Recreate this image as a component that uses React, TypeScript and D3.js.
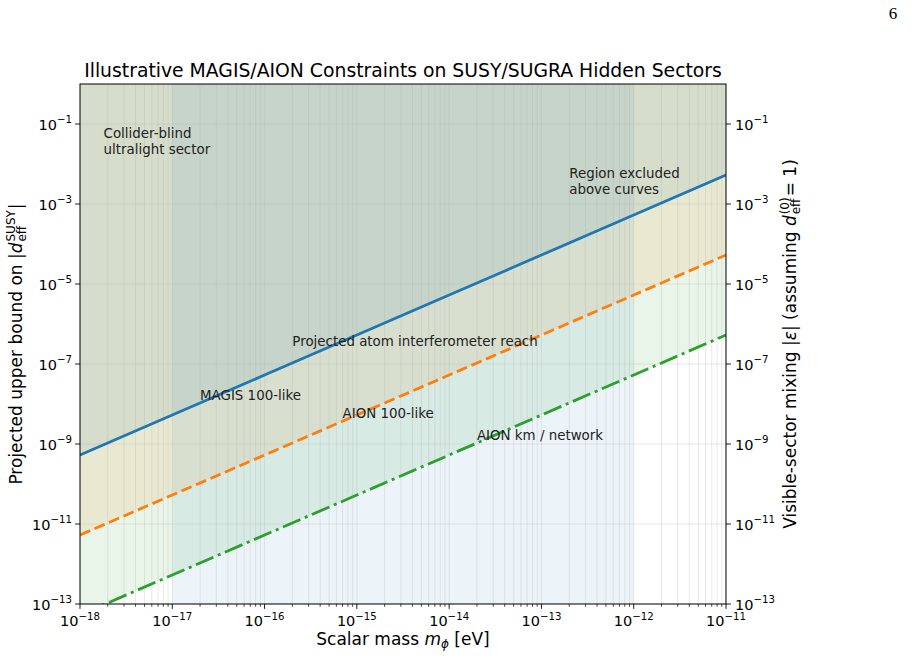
import React, { useEffect, useRef } from "react";
import * as d3 from "d3";

// Scalar masses (eV) at which the projected bounds are sampled
const massGrid = [1e-18, 1e-17, 1e-16, 1e-15, 1e-14, 1e-13, 1e-12, 1e-11];
// Projected upper bounds on |d_eff^SUSY| per experiment
const magis100 = [5.3e-10, 5.3e-9, 5.3e-8, 5.3e-7, 5.3e-6, 5.3e-5, 5.3e-4, 5.3e-3];
const aion100 = [5.3e-12, 5.3e-11, 5.3e-10, 5.3e-9, 5.3e-8, 5.3e-7, 5.3e-6, 5.3e-5];
const aionKm = [5.3e-14, 5.3e-13, 5.3e-12, 5.3e-11, 5.3e-10, 5.3e-9, 5.3e-8, 5.3e-7];

// Mass window of projected atom-interferometer reach
const reachWindow = [1e-17, 1e-12];

const xTickExps = [-18, -17, -16, -15, -14, -13, -12, -11];
const yTickExps = [-1, -3, -5, -7, -9, -11, -13];

const W = 917;
const H = 658;
const L = 80, R = 726, T = 84, B = 604;

const FONT = "DejaVu Sans, sans-serif";

export default function App() {
  const ref = useRef<SVGSVGElement | null>(null);

  useEffect(() => {
    const svg = d3.select(ref.current);
    svg.selectAll("*").remove();

    const x = d3.scaleLog().domain([1e-18, 1e-11]).range([L, R]);
    const y = d3.scaleLog().domain([1e-13, 1]).range([B, T]);

    svg.append("rect").attr("width", W).attr("height", H).attr("fill", "white");

    const defs = svg.append("defs");
    defs.append("clipPath").attr("id", "plotclip")
      .append("rect").attr("x", L).attr("y", T).attr("width", R - L).attr("height", B - T);

    const plot = svg.append("g").attr("clip-path", "url(#plotclip)");

    const series = [
      { vals: magis100, color: "#1f77b4", dash: null as string | null },
      { vals: aion100, color: "#ff7f0e", dash: "11,4.8" },
      { vals: aionKm, color: "#2ca02c", dash: "19,4.8,3,4.8" },
    ];

    // excluded regions above each curve
    series.forEach((s) => {
      const area = d3.area<number>()
        .x((_, i) => x(massGrid[i]))
        .y0(() => y(1))
        .y1((d) => y(d));
      plot.append("path").attr("d", area(s.vals)!).attr("fill", s.color).attr("fill-opacity", 0.1);
    });

    // reach window band
    plot.append("rect")
      .attr("x", x(reachWindow[0])).attr("y", T)
      .attr("width", x(reachWindow[1]) - x(reachWindow[0])).attr("height", B - T)
      .attr("fill", "#1f77b4").attr("fill-opacity", 0.08);

    // grid
    const grid = plot.append("g").attr("stroke", "#b0b0b0").attr("stroke-opacity", 0.35).attr("stroke-width", 0.8);
    const minorX: number[] = [];
    for (let e = -18; e < -11; e++) for (let k = 2; k <= 9; k++) minorX.push(k * Math.pow(10, e));
    const majorX = xTickExps.map((e) => Math.pow(10, e));
    [...majorX, ...minorX].forEach((v) => {
      grid.append("line").attr("x1", x(v)).attr("x2", x(v)).attr("y1", T).attr("y2", B);
    });
    yTickExps.forEach((e) => {
      const v = Math.pow(10, e);
      grid.append("line").attr("x1", L).attr("x2", R).attr("y1", y(v)).attr("y2", y(v));
    });

    // curves
    series.forEach((s) => {
      const line = d3.line<number>().x((_, i) => x(massGrid[i])).y((d) => y(d));
      const p = plot.append("path").attr("d", line(s.vals)!).attr("fill", "none")
        .attr("stroke", s.color).attr("stroke-width", 2.8);
      if (s.dash) p.attr("stroke-dasharray", s.dash);
    });

    // annotations
    const ann = svg.append("g").attr("font-family", FONT).attr("font-size", 13.4).attr("fill", "#222");
    const addText = (tx: number, ty: number, lines: string[]) => {
      lines.forEach((ln, i) => {
        ann.append("text").attr("x", tx).attr("y", ty + i * 15.5).text(ln);
      });
    };
    addText(x(1.8e-18), 138, ["Collider-blind", "ultralight sector"]);
    addText(x(2e-13), 178, ["Region excluded", "above curves"]);
    addText(x(2e-16), 346, ["Projected atom interferometer reach"]);
    addText(x(2e-17), 400, ["MAGIS 100-like"]);
    addText(x(7e-16), 418, ["AION 100-like"]);
    addText(x(2e-14), 440, ["AION km / network"]);

    // frame
    svg.append("rect").attr("x", L).attr("y", T).attr("width", R - L).attr("height", B - T)
      .attr("fill", "none").attr("stroke", "black").attr("stroke-width", 1);

    const axes = svg.append("g").attr("font-family", FONT).attr("fill", "black");

    // x ticks
    majorX.forEach((v, i) => {
      axes.append("line").attr("x1", x(v)).attr("x2", x(v)).attr("y1", B).attr("y2", B + 4.9).attr("stroke", "black").attr("stroke-width", 0.9);
      const t = axes.append("text").attr("x", x(v)).attr("y", 626).attr("text-anchor", "middle").attr("font-size", 14.5);
      t.append("tspan").text("10");
      t.append("tspan").attr("dy", -6.5).attr("font-size", 10.2).text("\u2212" + Math.abs(xTickExps[i]));
    });
    minorX.forEach((v) => {
      axes.append("line").attr("x1", x(v)).attr("x2", x(v)).attr("y1", B).attr("y2", B + 2.8).attr("stroke", "black").attr("stroke-width", 0.7);
    });

    // y ticks left and right
    yTickExps.forEach((e) => {
      const v = Math.pow(10, e);
      const yy = y(v);
      axes.append("line").attr("x1", L - 4.9).attr("x2", L).attr("y1", yy).attr("y2", yy).attr("stroke", "black").attr("stroke-width", 0.9);
      axes.append("line").attr("x1", R).attr("x2", R + 4.9).attr("y1", yy).attr("y2", yy).attr("stroke", "black").attr("stroke-width", 0.9);
      const tl = axes.append("text").attr("x", L - 8).attr("y", yy + 5.5).attr("text-anchor", "end").attr("font-size", 14.5);
      tl.append("tspan").text("10");
      tl.append("tspan").attr("dy", -6.5).attr("font-size", 10.2).text("\u2212" + Math.abs(e));
      const tr = axes.append("text").attr("x", R + 9).attr("y", yy + 5.5).attr("text-anchor", "start").attr("font-size", 14.5);
      tr.append("tspan").text("10");
      tr.append("tspan").attr("dy", -6.5).attr("font-size", 10.2).text("\u2212" + Math.abs(e));
    });

    // title
    svg.append("text").attr("x", (L + R) / 2).attr("y", 77).attr("text-anchor", "middle")
      .attr("font-family", FONT).attr("font-size", 18.8).text("Illustrative MAGIS/AION Constraints on SUSY/SUGRA Hidden Sectors");

    // x label
    const xl = svg.append("text").attr("x", (L + R) / 2).attr("y", 645).attr("text-anchor", "middle")
      .attr("font-family", FONT).attr("font-size", 17);
    xl.append("tspan").text("Scalar mass ");
    xl.append("tspan").attr("font-style", "italic").text("m");
    xl.append("tspan").attr("font-size", 12).attr("font-style", "italic").attr("dy", 3).text("\u03d5");
    xl.append("tspan").attr("dy", -3).text(" [eV]");

    // rotated label with stacked sub/superscript
    const stackedLabel = (
      cx: number, cy: number,
      pre: { t: string; it?: boolean }[],
      sup: string, sub: string, post: { t: string; it?: boolean }[]
    ) => {
      const g = svg.append("g").attr("font-family", FONT).attr("font-size", 17);
      const t1 = g.append("text").attr("x", 0).attr("y", 0);
      pre.forEach((p) => { const s = t1.append("tspan").text(p.t); if (p.it) s.attr("font-style", "italic"); });
      const w1 = (t1.node() as SVGTextElement).getComputedTextLength();
      const ts = g.append("text").attr("x", w1 + 1).attr("y", -7).attr("font-size", 12).text(sup);
      const tb = g.append("text").attr("x", w1 + 1).attr("y", 4).attr("font-size", 12).text(sub);
      const w2 = Math.max((ts.node() as SVGTextElement).getComputedTextLength(), (tb.node() as SVGTextElement).getComputedTextLength());
      const t3 = g.append("text").attr("x", w1 + w2 + 2).attr("y", 0);
      post.forEach((p) => { const s = t3.append("tspan").text(p.t); if (p.it) s.attr("font-style", "italic"); });
      const w3 = (t3.node() as SVGTextElement).getComputedTextLength();
      const total = w1 + w2 + 2 + w3;
      g.attr("transform", `translate(${cx},${cy}) rotate(-90) translate(${-total / 2},0)`);
    };

    stackedLabel(22, (T + B) / 2,
      [{ t: "Projected upper bound on |" }, { t: "d", it: true }],
      "SUSY", "eff", [{ t: "|" }]);

    stackedLabel(796, (T + B) / 2,
      [{ t: "Visible-sector mixing |" }, { t: "\u03b5", it: true }, { t: "| (assuming " }, { t: "d", it: true }],
      "(0)", "eff", [{ t: " = 1)" }]);

    // page number
    svg.append("text").attr("x", 893).attr("y", 19).attr("text-anchor", "middle")
      .attr("font-family", "Liberation Serif, serif").attr("font-size", 17).text("6");
  }, []);

  return (
    <svg ref={ref} width={W} height={H} style={{ position: "absolute", left: 0, top: 0 }} />
  );
}
